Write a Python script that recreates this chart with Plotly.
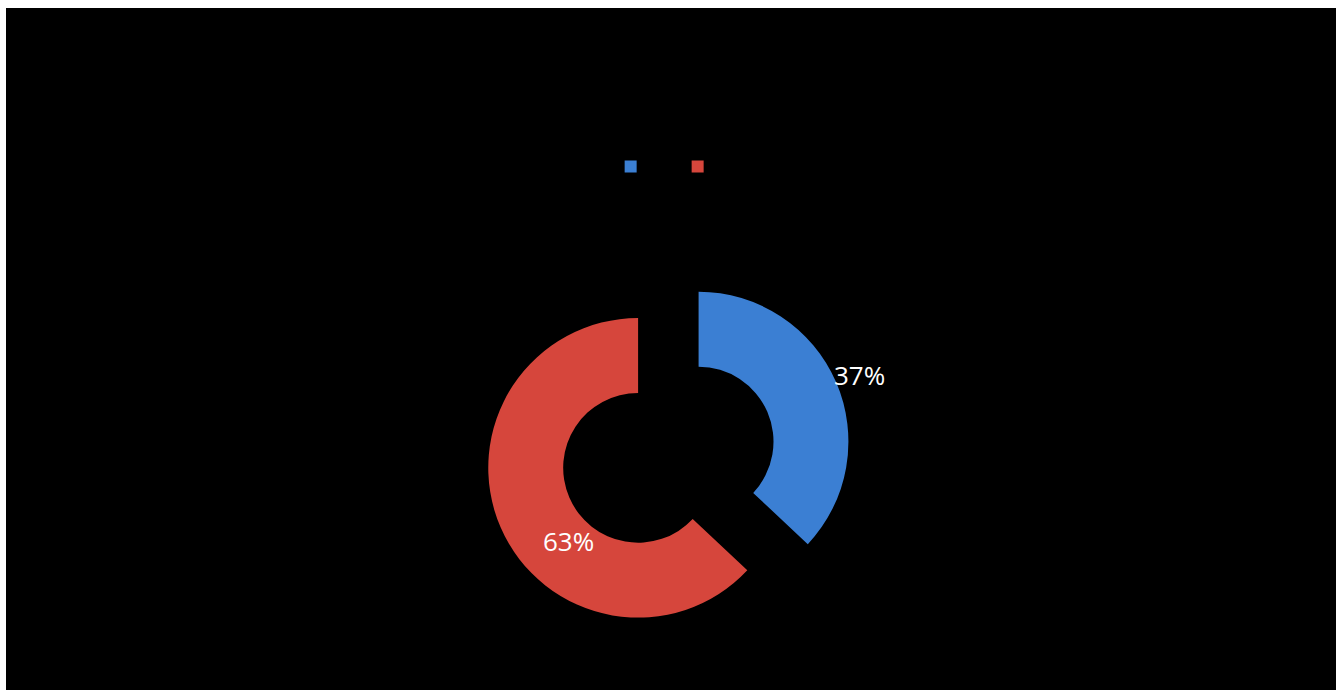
import plotly.graph_objects as go

labels = [" ", "  "]
values = [37, 63]
colors = ["#3B7FD3", "#D6463C"]
pulls = [0.22, 0.22]
# label anchor positions (paper coords) for the percentage labels
label_pos = [(0.642, 0.462), (0.423, 0.219)]

total = sum(values)
pct_text = [f"{round(100 * v / total)}%" for v in values]

fig = go.Figure()
fig.add_trace(go.Pie(
    labels=labels,
    values=values,
    hole=0.5,
    sort=False,
    direction="clockwise",
    rotation=0,
    pull=pulls,
    marker=dict(colors=colors, line=dict(width=0)),
    textinfo="none",
    domain=dict(x=[0.36, 0.636], y=[0.077, 0.613]),
    hoverinfo="skip",
))

annotations = [
    dict(text=t, x=p[0], y=p[1], xref="paper", yref="paper", showarrow=False,
         font=dict(color="white", size=26, family="Open Sans"),
         xanchor="center", yanchor="middle")
    for t, p in zip(pct_text, label_pos)
]

fig.update_layout(
    width=1336, height=690,
    margin=dict(l=6, t=8, r=0, b=0),
    paper_bgcolor="white",
    showlegend=True,
    legend=dict(
        orientation="h", x=0.505, xanchor="center", y=0.767, yanchor="middle",
        font=dict(color="black", size=14),
        entrywidth=22, entrywidthmode="pixels",
        bgcolor="rgba(0,0,0,0)",
    ),
    annotations=annotations,
    shapes=[dict(type="rect", xref="paper", yref="paper", x0=0, x1=1, y0=0, y1=1,
                 fillcolor="black", line=dict(width=0), layer="below")],
)

fig.write_html("out.html")
